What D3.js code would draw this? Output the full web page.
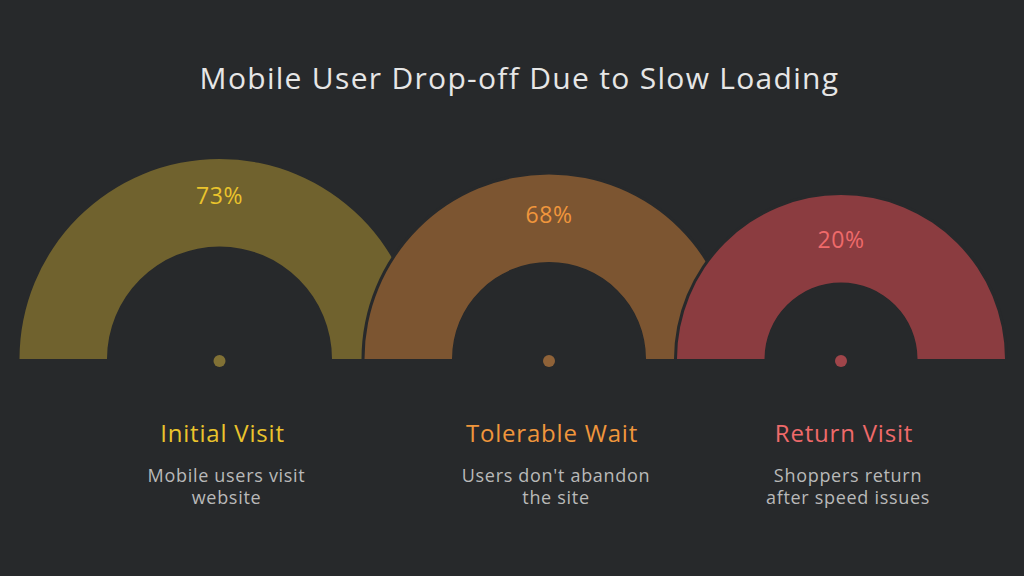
<!DOCTYPE html>
<html>
<head>
<meta charset="utf-8">
<script src="https://cdn.jsdelivr.net/npm/d3@7"></script>
<style>
  html, body { margin: 0; padding: 0; background: #27292b; }
  svg { display: block; }
</style>
</head>
<body>
<svg id="chart" width="1024" height="576"></svg>
<script>
// ---- data ----
const categories = ["Initial Visit", "Tolerable Wait", "Return Visit"];
const values = [73, 68, 20];
const valueLabels = ["73%", "68%", "20%"];
const descriptions = [
  ["Mobile users visit", "website"],
  ["Users don't abandon", "the site"],
  ["Shoppers return", "after speed issues"]
];
const title = "Mobile User Drop-off Due to Slow Loading";

// ---- styles ----
const bg = "#27292b";
const fillColors = ["#70622e", "#7c5531", "#8b3c40"];
const textColors = ["#ebc42c", "#f0963c", "#ef6a6a"];
const descColor = "#b9b9b9";
const fontFamily = "'Open Sans', 'Noto Sans', sans-serif";

const svg = d3.select("#chart");
const W = 1024, H = 576;

// layout scales
const baseY = 359;
const xCenter = d3.scaleOrdinal(categories, [219.5, 549, 841]);
const outerR = d3.scaleOrdinal(categories, [200, 184.5, 164]);
const thickness = 87.5;
const gap = 3;
const color = d3.scaleOrdinal(categories, fillColors);
const tColor = d3.scaleOrdinal(categories, textColors);

const data = categories.map((c, i) => ({ cat: c, value: values[i], label: valueLabels[i], desc: descriptions[i] }));

// title
svg.append("text")
  .attr("x", 519.5).attr("y", 89)
  .attr("text-anchor", "middle")
  .attr("fill", "#e6e6e6")
  .attr("font-family", fontFamily)
  .attr("font-size", 30)
  .attr("letter-spacing", 1.3)
  .attr("font-weight", 400)
  .text(title);

const arc = d3.arc()
  .innerRadius(d => outerR(d.cat) - thickness)
  .outerRadius(d => outerR(d.cat))
  .startAngle(-Math.PI / 2)
  .endAngle(Math.PI / 2);

const halo = d3.arc()
  .innerRadius(d => outerR(d.cat) - thickness)
  .outerRadius(d => outerR(d.cat) + gap)
  .startAngle(-Math.PI / 2)
  .endAngle(Math.PI / 2);

const g = svg.selectAll("g.ring").data(data).join("g")
  .attr("class", "ring")
  .attr("transform", d => `translate(${xCenter(d.cat)},${baseY})`);

g.filter((d, i) => i > 0).append("path")
  .attr("d", halo)
  .attr("fill", bg);

g.append("path")
  .attr("d", arc)
  .attr("fill", d => color(d.cat));

g.append("circle")
  .attr("cx", 0).attr("cy", 2)
  .attr("r", 6)
  .attr("fill", d => color(d.cat))
  .style("filter", "brightness(1.15)");

g.append("text")
  .attr("x", 0)
  .attr("y", d => -(outerR(d.cat) - thickness / 2) + 3 - 0.22 * (outerR(d.cat) - 164))
  .attr("text-anchor", "middle")
  .attr("dominant-baseline", "middle")
  .attr("fill", d => tColor(d.cat))
  .attr("font-family", fontFamily)
  .attr("font-size", 23)
  .attr("letter-spacing", 0.5)
  .text(d => d.label);

// category titles
const labels = svg.selectAll("g.lab").data(data).join("g")
  .attr("class", "lab")
  .attr("transform", d => `translate(${xCenter(d.cat)},0)`);

labels.append("text")
  .attr("x", 3).attr("y", 442)
  .attr("text-anchor", "middle")
  .attr("fill", d => tColor(d.cat))
  .attr("font-family", fontFamily)
  .attr("font-size", 24)
  .attr("letter-spacing", 0.8)
  .text(d => d.cat);

labels.append("text")
  .attr("x", 7)
  .attr("text-anchor", "middle")
  .attr("fill", descColor)
  .attr("font-family", fontFamily)
  .attr("font-size", 18)
  .attr("letter-spacing", 0.7)
  .selectAll("tspan").data(d => d.desc).join("tspan")
  .attr("x", 7)
  .attr("y", (d, i) => 482 + i * 22)
  .text(d => d);
</script>
</body>
</html>
